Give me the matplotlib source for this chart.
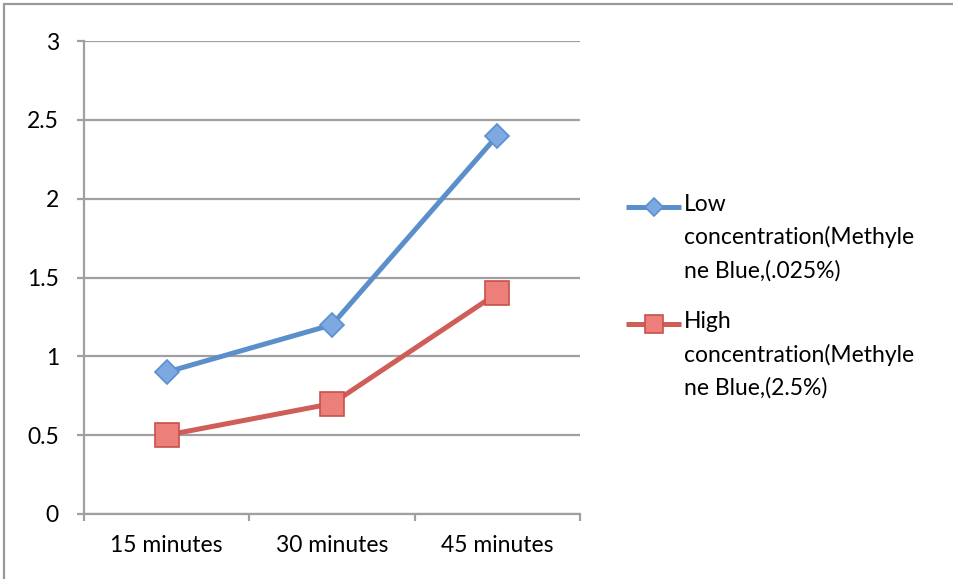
import matplotlib.pyplot as plt
import numpy as np
from matplotlib.legend_handler import HandlerLine2D
from matplotlib.patches import Rectangle

categories = ["15 minutes", "30 minutes", "45 minutes"]
low_values = [0.9, 1.2, 2.4]
high_values = [0.5, 0.7, 1.4]
low_label = "Low\nconcentration(Methyle\nne Blue,(.025%)"
high_label = "High\nconcentration(Methyle\nne Blue,(2.5%)"

plt.rcParams['font.family'] = ['Lato', 'DejaVu Sans']

FS = 16.5
LINESP = 1.65


class TopLineHandler(HandlerLine2D):
    # put the legend handle next to the first line of a multi-line label
    def __init__(self, shift, **kw):
        super().__init__(**kw)
        self.shift = shift

    def create_artists(self, legend, orig_handle, xdescent, ydescent,
                       width, height, fontsize, trans):
        arts = super().create_artists(legend, orig_handle, xdescent, ydescent,
                                      width, height, fontsize, trans)
        for a in arts:
            a.set_ydata(np.asarray(a.get_ydata()) + self.shift)
        return arts


fig = plt.figure(figsize=(9.54, 5.79), dpi=100)
ax = fig.add_axes([84 / 954, 1 - 514 / 579, 496 / 954, 473 / 579])

x = np.arange(len(categories))
grid_col = "#a0a0a0"

l1, = ax.plot(x, low_values, color="#5b8fcb", lw=3.6, marker="D", ms=12.5,
              markerfacecolor="#7ea9e0", markeredgecolor="#5a8fd0", mew=1.2,
              solid_capstyle="butt", zorder=3)
l2, = ax.plot(x, high_values, color="#cf5d58", lw=3.6, marker="s", ms=17.5,
              markerfacecolor="#ec7f7a", markeredgecolor="#c9504b", mew=1.2,
              solid_capstyle="butt", zorder=3)

ax.set_xlim(-0.5, len(categories) - 0.5)
ax.set_ylim(0, 3)
ax.set_yticks(np.arange(0, 3.01, 0.5))
ax.set_yticklabels(["0", "0.5", "1", "1.5", "2", "2.5", "3"])
ax.set_xticks(x)
ax.set_xticklabels(categories)
ax.set_xticks(np.arange(-0.5, len(categories), 1.0), minor=True)

ax.grid(axis="y", color=grid_col, lw=1.6, zorder=0)
ax.set_axisbelow(True)
for s in ["top", "right"]:
    ax.spines[s].set_visible(False)
for s in ["left", "bottom"]:
    ax.spines[s].set_color(grid_col)
    ax.spines[s].set_linewidth(1.6)

ax.tick_params(axis="y", length=5, width=1.6, color=grid_col, pad=13,
               labelsize=FS)
ax.tick_params(axis="x", which="major", length=0, pad=15, labelsize=FS)
ax.tick_params(axis="x", which="minor", length=5, width=1.6, color=grid_col)

shift = FS * 0.82 * LINESP
leg = ax.legend([l1, l2], [low_label, high_label],
                loc="upper left", bbox_to_anchor=(1.052, 0.721),
                frameon=False, fontsize=FS, handlelength=2.4,
                handletextpad=0.1, labelspacing=1.3, markerscale=0.75,
                handler_map={l1: TopLineHandler(shift), l2: TopLineHandler(shift)})
for t in leg.get_texts():
    t.set_linespacing(LINESP)

# outer chart border
fig.patches.append(Rectangle((4 / 954, -0.1), 1.2, 1.1 - 4 / 579,
                             transform=fig.transFigure, fill=False,
                             edgecolor="#999999", lw=1.6))

fig.savefig("out.png", dpi=100)
